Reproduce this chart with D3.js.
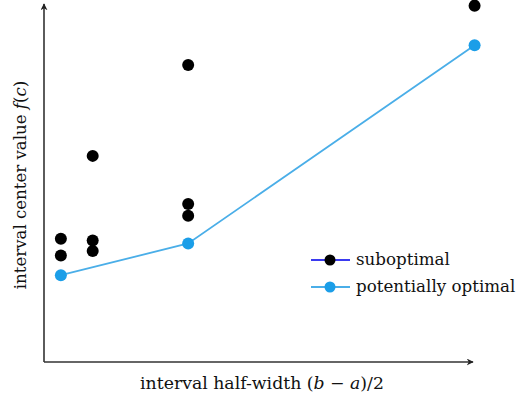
<!DOCTYPE html>
<html><head><meta charset="utf-8">
<script src="https://cdn.jsdelivr.net/npm/d3@7"></script>
<style>html,body{margin:0;padding:0;background:#fff;}</style>
</head><body>
<svg id="c" width="518" height="395"></svg>
<script>
const optX = [1, 5, 14];
const optY = [2.44, 3.33, 8.90];
const subX = [1, 1, 2, 2, 2, 5, 5, 5, 14];
const subY = [3.46, 2.99, 3.41, 3.12, 5.79, 8.34, 4.44, 4.11, 10.01];
const xLabel = "interval half-width";
const yLabel = "interval center value";
const legendLabels = ["suboptimal", "potentially optimal"];

const svg = d3.select("#c");
const font = "'DejaVu Serif', serif";
const x = d3.scaleLinear().domain([0.47, 13.95]).range([44, 473]);
const y = d3.scaleLinear().domain([0, 10]).range([362, 6]);

const defs = svg.append("defs");
defs.append("marker").attr("id","arr").attr("viewBox","0 0 10 10").attr("refX",9).attr("refY",5)
  .attr("markerWidth",7).attr("markerHeight",7).attr("markerUnits","userSpaceOnUse").attr("orient","auto")
  .append("path").attr("d","M0,0 L10,5 L0,10 L3,5 Z").attr("fill","#222");

const axisCol = "#333";
svg.append("line").attr("x1",x.range()[0]).attr("y1",y.range()[0]).attr("x2",x.range()[1]).attr("y2",y.range()[0])
  .attr("stroke",axisCol).attr("stroke-width",1.6).attr("marker-end","url(#arr)");
svg.append("line").attr("x1",x.range()[0]).attr("y1",y.range()[0]).attr("x2",x.range()[0]).attr("y2",4)
  .attr("stroke",axisCol).attr("stroke-width",1.6).attr("marker-end","url(#arr)");

const lineCol = "#4aaee8", dotCol = "#1b9ee8";
svg.append("path").datum(optX.map((d,i)=>[d,optY[i]]))
  .attr("d", d3.line().x(d=>x(d[0])).y(d=>y(d[1])))
  .attr("fill","none").attr("stroke",lineCol).attr("stroke-width",1.8);

svg.selectAll(".sub").data(subX.map((d,i)=>[d,subY[i]])).join("circle")
  .attr("cx",d=>x(d[0])).attr("cy",d=>y(d[1])).attr("r",6).attr("fill","#000");
svg.selectAll(".opt").data(optX.map((d,i)=>[d,optY[i]])).join("circle")
  .attr("cx",d=>x(d[0])).attr("cy",d=>y(d[1])).attr("r",6).attr("fill",dotCol);

// axis labels
const xl = svg.append("text").attr("x",262).attr("y",389).attr("text-anchor","middle")
  .attr("font-family",font).attr("font-size",17.3).attr("fill","#111");
xl.append("tspan").text(xLabel + " (");
xl.append("tspan").attr("font-style","italic").text("b");
xl.append("tspan").text(" − ");
xl.append("tspan").attr("font-style","italic").text("a");
xl.append("tspan").text(")/2");

const yl = svg.append("text").attr("transform","translate(26,185) rotate(-90)").attr("text-anchor","middle")
  .attr("font-family",font).attr("font-size",16.6).attr("fill","#111");
yl.append("tspan").text(yLabel + " ");
yl.append("tspan").attr("font-style","italic").text("f");
yl.append("tspan").text("(");
yl.append("tspan").attr("font-style","italic").text("c");
yl.append("tspan").text(")");

// legend
const lg = svg.append("g");
const items = [{line:"#3a3af0", dot:"#000"}, {line:lineCol, dot:dotCol}];
items.forEach((it,i)=>{
  const yy = 260 + i*27;
  lg.append("line").attr("x1",311).attr("x2",350).attr("y1",yy).attr("y2",yy).attr("stroke",it.line).attr("stroke-width",1.8);
  lg.append("circle").attr("cx",330).attr("cy",yy).attr("r",5.5).attr("fill",it.dot);
  lg.append("text").attr("x",356).attr("y",yy+5).attr("font-family",font).attr("font-size",16.7).attr("fill","#111").text(legendLabels[i]);
});
</script>
</body></html>
